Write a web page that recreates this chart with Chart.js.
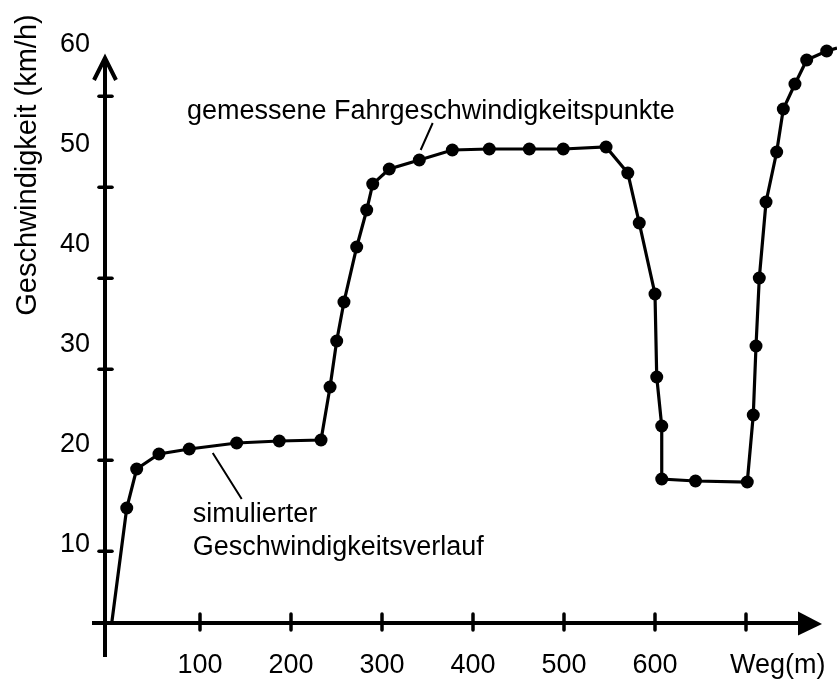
<!DOCTYPE html>
<html>
<head>
<meta charset="utf-8">
<title>Geschwindigkeitsverlauf</title>
<script src="https://cdn.jsdelivr.net/npm/chart.js@4.4.1/dist/chart.umd.min.js"></script>
<style>
  html, body { margin: 0; padding: 0; background: #fff; }
  #wrap { width: 837px; height: 682px; }
</style>
</head>
<body>
<div id="wrap"><canvas id="chart" width="837" height="682"></canvas></div>
<script>
// ── Data (Weg in m, Geschwindigkeit in km/h) ──
const wegWerte = [3, 19.5, 30.4, 54.9, 88.2, 140.3, 187.1, 233, 242.9, 250.2, 258.2, 272.2, 283.2, 289.8,
  308, 341, 377.3, 417.9, 461.9, 499.2, 546.2, 570.1, 582.7, 600, 601.9, 607.4, 607.4, 644.5, 701.4,
  708, 711, 714.6, 722, 733.7, 741, 753.8, 766.7, 788.7, 800];
const geschwWerte = [2.2, 13.7, 17.6, 19.1, 19.6, 20.2, 20.4, 20.5, 25.8, 30.4, 34.3, 39.8, 43.5, 46.1,
  47.6, 48.5, 49.5, 49.6, 49.6, 49.6, 49.8, 47.2, 42.2, 35.1, 26.8, 21.9, 16.6, 16.4, 16.3,
  23, 29.9, 36.7, 44.3, 49.3, 53.6, 56.1, 58.5, 59.4, 59.7];

const xLabels = [100, 200, 300, 400, 500, 600];
const xTickMarks = [100, 200, 300, 400, 500, 600, 700];
const yLabels = [10, 20, 30, 40, 50, 60];
const yTickMarks = [10, 20, 30, 40, 50, 60];

const yTitle = "Geschwindigkeit (km/h)";
const xTitle = "Weg(m)";
const noteTop = "gemessene Fahrgeschwindigkeitspunkte";
const noteBottom = ["simulierter", "Geschwindigkeitsverlauf"];

const FONT = "Liberation Sans, Arial, sans-serif";
Chart.defaults.font.family = FONT;
Chart.defaults.color = "#000";

// ── Axes with arrows, tick marks and the notes ──
const sketchPlugin = {
  id: "sketch",
  afterDraw(chart) {
    const ctx = chart.ctx;
    const a = chart.chartArea;
    const xs = chart.scales.x, ys = chart.scales.y, ym = chart.scales.yMark;
    const axisY = a.bottom - 1;
    ctx.save();
    ctx.strokeStyle = "#000";
    ctx.fillStyle = "#000";

    // x axis
    ctx.lineWidth = 4;
    ctx.beginPath();
    ctx.moveTo(a.left - 13, axisY);
    ctx.lineTo(a.left + 695, axisY);
    ctx.stroke();
    ctx.beginPath();
    ctx.moveTo(a.left + 693, axisY - 11.5);
    ctx.lineTo(a.left + 717, axisY + 1);
    ctx.lineTo(a.left + 693, axisY + 12.5);
    ctx.closePath();
    ctx.fill();

    // y axis
    ctx.beginPath();
    ctx.moveTo(a.left, a.bottom + 33);
    ctx.lineTo(a.left, a.top + 20);
    ctx.stroke();
    ctx.lineJoin = "miter";
    ctx.beginPath();
    ctx.moveTo(a.left - 11, a.top + 42);
    ctx.lineTo(a.left, a.top + 20);
    ctx.lineTo(a.left + 11, a.top + 42);
    ctx.stroke();

    // tick marks
    ctx.lineCap = "round";
    ctx.lineWidth = 3.5;
    xTickMarks.forEach(function (v) {
      const px = xs.getPixelForValue(v);
      ctx.beginPath();
      ctx.moveTo(px, axisY - 9);
      ctx.lineTo(px, axisY + 7);
      ctx.stroke();
    });
    yTickMarks.forEach(function (v) {
      const py = ym.getPixelForValue(v);
      ctx.beginPath();
      ctx.moveTo(a.left - 6, py);
      ctx.lineTo(a.left + 7, py);
      ctx.stroke();
    });

    // leader lines
    ctx.lineCap = "butt";
    ctx.lineWidth = 2;
    ctx.beginPath();
    ctx.moveTo(xs.getPixelForValue(114), ys.getPixelForValue(19.2));
    ctx.lineTo(xs.getPixelForValue(145.8), ys.getPixelForValue(14.6));
    ctx.moveTo(xs.getPixelForValue(355.7), ys.getPixelForValue(52.2));
    ctx.lineTo(xs.getPixelForValue(342.5), ys.getPixelForValue(49.5));
    ctx.stroke();

    // texts
    ctx.font = "27px " + FONT;
    ctx.textAlign = "left";
    ctx.textBaseline = "alphabetic";
    ctx.fillText(noteTop, xs.getPixelForValue(85.7), 119);
    ctx.fillText(noteBottom[0], xs.getPixelForValue(92), 522);
    ctx.fillText(noteBottom[1], xs.getPixelForValue(92), 555);
    ctx.fillText(xTitle, 730, 673);

    ctx.font = "29px " + FONT;
    ctx.translate(28, 165);
    ctx.rotate(-Math.PI / 2);
    ctx.textAlign = "center";
    ctx.textBaseline = "middle";
    ctx.fillText(yTitle, 0, 0);
    ctx.restore();
  }
};

const points = wegWerte.map(function (x, i) { return { x: x, y: geschwWerte[i] }; });
const lastIdx = points.length - 1;

new Chart(document.getElementById("chart"), {
  type: "line",
  data: {
    datasets: [{
      data: points,
      borderColor: "#000",
      borderWidth: 3.2,
      backgroundColor: "#000",
      pointBackgroundColor: "#000",
      pointBorderWidth: 0,
      pointRadius: function (c) { return (c.dataIndex === 0 || c.dataIndex === lastIdx) ? 0 : 6.5; },
      tension: 0,
      clip: false,
    }],
  },
  options: {
    responsive: false,
    animation: false,
    layout: { padding: { top: 38, right: 0, left: 0, bottom: 0 } },
    plugins: {
      legend: { display: false },
      tooltip: { enabled: false },
    },
    scales: {
      x: {
        type: "linear",
        min: -4.4,
        max: 800,
        afterBuildTicks: function (s) { s.ticks = xLabels.map(function (v) { return { value: v }; }); },
        afterFit: function (s) { s.height = 58; },
        grid: { display: false, drawTicks: false },
        border: { display: false },
        ticks: { padding: 25, maxRotation: 0, autoSkip: false, font: { size: 27 }, color: "#000" },
      },
      y: {
        type: "linear",
        min: 2.1,
        max: 60.7,
        afterBuildTicks: function (s) { s.ticks = yLabels.map(function (v) { return { value: v }; }); },
        afterFit: function (s) { s.width = 105; },
        grid: { display: false, drawTicks: false },
        border: { display: false },
        ticks: { padding: 15, font: { size: 27 }, color: "#000" },
      },
      yMark: {
        type: "linear",
        position: "left",
        display: false,
        min: 2.0,
        max: 66.4,
      },
    },
  },
  plugins: [sketchPlugin],
});
</script>
</body>
</html>
